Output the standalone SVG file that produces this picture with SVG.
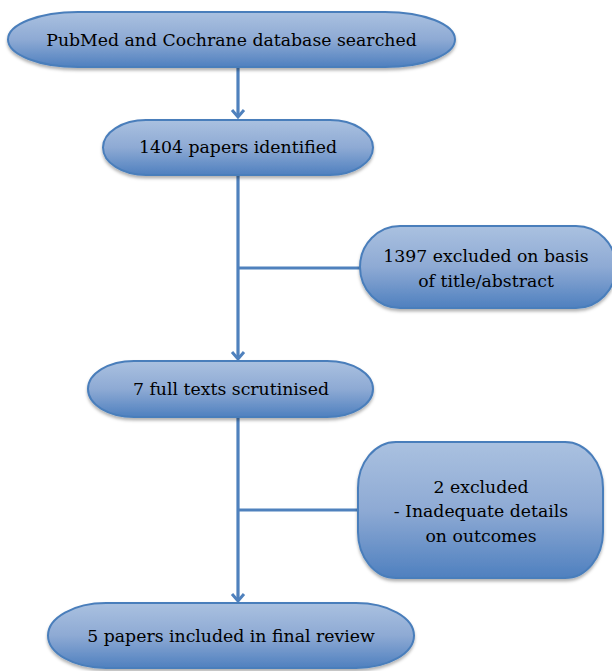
<svg xmlns="http://www.w3.org/2000/svg" width="612" height="671" viewBox="0 0 612 671">
<defs>
<linearGradient id="g" x1="0" y1="0" x2="0" y2="1">
<stop offset="0" stop-color="#aac1e0"/>
<stop offset="0.5" stop-color="#8eaad4"/>
<stop offset="1" stop-color="#4f80bf"/>
</linearGradient>
<filter id="sh" x="-5%" y="-10%" width="110%" height="130%">
<feDropShadow dx="0" dy="2.5" stdDeviation="1.5" flood-color="#000" flood-opacity="0.3"/>
</filter>
<marker id="ah" viewBox="-8 -8 16 16" refX="0" refY="0" markerWidth="16" markerHeight="16" markerUnits="userSpaceOnUse" orient="auto">
<polyline points="-7,-6 0,0 -7,6" fill="none" stroke="#4f81bd" stroke-width="3" stroke-linejoin="miter"/>
</marker>
</defs>
<style>
.n{fill:url(#g);stroke:#4a7ebb;stroke-width:2;filter:url(#sh)}
.t{font-family:"DejaVu Serif","Liberation Serif",serif;font-size:17.3px;fill:#000;text-anchor:middle}
.c{stroke:#4f81bd;stroke-width:3.2;fill:none}
</style>
<g id="connectors">
<line class="c" x1="238" y1="67" x2="238" y2="117" marker-end="url(#ah)"/>
<line class="c" x1="238" y1="175" x2="238" y2="359" marker-end="url(#ah)"/>
<line class="c" x1="238" y1="268" x2="362" y2="268"/>
<line class="c" x1="238" y1="417" x2="238" y2="601" marker-end="url(#ah)"/>
<line class="c" x1="238" y1="510" x2="360" y2="510"/>
</g>
<g id="n1">
<rect class="n" x="8" y="12" width="447" height="55" rx="70" ry="27.5"/>
<text class="t" x="231.5" y="46">PubMed and Cochrane database searched</text>
</g>
<g id="n2">
<rect class="n" x="103" y="120" width="270" height="55" rx="43" ry="27.5"/>
<text class="t" x="238" y="153">1404 papers identified</text>
</g>
<g id="n3">
<rect class="n" x="360" y="226" width="256" height="82" rx="40" ry="41"/>
<text class="t" x="486" y="262">1397 excluded on basis</text>
<text class="t" x="486" y="287">of title/abstract</text>
</g>
<g id="n4">
<rect class="n" x="88" y="361" width="285" height="56" rx="46" ry="28"/>
<text class="t" x="231" y="395">7 full texts scrutinised</text>
</g>
<g id="n5">
<rect class="n" x="358" y="442" width="245" height="136" rx="38" ry="46"/>
<text class="t" x="481" y="493">2 excluded</text>
<text class="t" x="481" y="517">- Inadequate details</text>
<text class="t" x="481" y="542">on outcomes</text>
</g>
<g id="n6">
<rect class="n" x="48" y="603" width="366" height="65" rx="58" ry="32.5"/>
<text class="t" x="231" y="642">5 papers included in final review</text>
</g>
</svg>
